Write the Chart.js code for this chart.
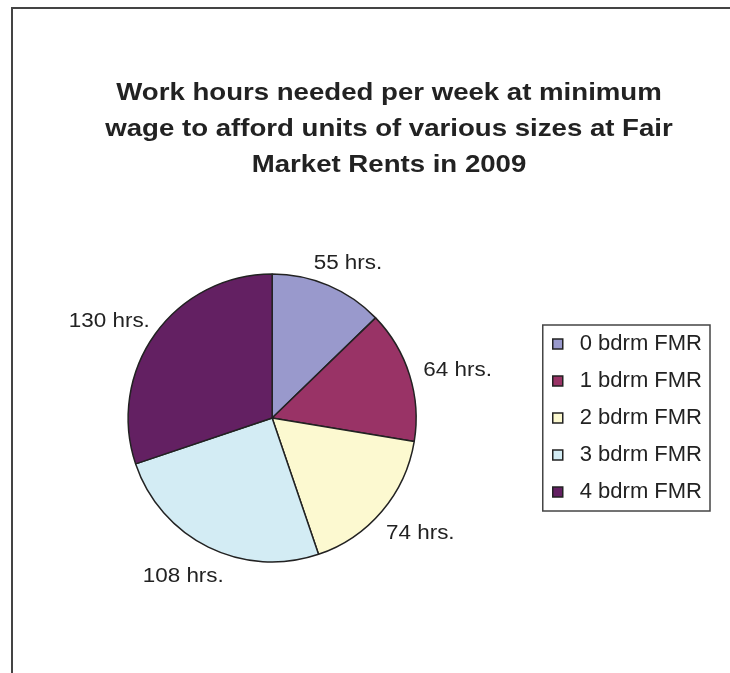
<!DOCTYPE html>
<html>
<head>
<meta charset="utf-8">
<script src="https://cdn.jsdelivr.net/npm/chart.js@4.4.1/dist/chart.umd.min.js"></script>
<style>
  html, body { margin: 0; padding: 0; background: #fff; overflow: hidden; }
  #wrap { position: relative; width: 730px; height: 673px; }
  #frame { position: absolute; left: 11px; top: 7px; right: -10px; bottom: -10px;
           border-left: 2px solid #444; border-top: 2px solid #444; }
  canvas { position: absolute; left: 0; top: 0; }
</style>
</head>
<body>
<div id="wrap">
  <div id="frame"></div>
  <canvas id="chart" width="730" height="673"></canvas>
</div>
<script>
const titleLines = [
    'Work hours needed per week at minimum',
    'wage to afford units of various sizes at Fair',
    'Market Rents in 2009'
];
const categories = ['0 bdrm FMR', '1 bdrm FMR', '2 bdrm FMR', '3 bdrm FMR', '4 bdrm FMR'];
const hours = [55, 64, 74, 108, 130];
const sliceColors = ['#9999cc', '#993366', '#fcf9d0', '#d3ecf4', '#632062'];

const FONT = '"Liberation Sans", Arial, sans-serif';
const STRETCH = 1.15; // text in the original is drawn a little wide

function wideText(ctx, text, x, y, align) {
    ctx.save();
    ctx.translate(x, y);
    ctx.scale(STRETCH, 1);
    ctx.textAlign = align;
    ctx.fillText(text, 0, 0);
    ctx.restore();
}

// Title, drawn by hand so it can sit centred over the whole frame
const titlePlugin = {
    id: 'wideTitle',
    afterDraw(chart) {
        const ctx = chart.ctx;
        ctx.save();
        ctx.font = 'bold 24px ' + FONT;
        ctx.fillStyle = '#222';
        ctx.textBaseline = 'alphabetic';
        titleLines.forEach((line, i) => wideText(ctx, line, 389, 100 + i * 36, 'center'));
        ctx.restore();
    }
};

// "NN hrs." labels just outside each slice
const sliceLabels = {
    id: 'sliceLabels',
    afterDatasetsDraw(chart) {
        const ctx = chart.ctx;
        const meta = chart.getDatasetMeta(0);
        ctx.save();
        ctx.font = '19.5px ' + FONT;
        ctx.fillStyle = '#222';
        ctx.textBaseline = 'middle';
        meta.data.forEach((arc, i) => {
            const p = arc.getProps(['x', 'y', 'startAngle', 'endAngle', 'outerRadius'], true);
            const mid = (p.startAngle + p.endAngle) / 2;
            const dx = Math.cos(mid), dy = Math.sin(mid);
            const text = hours[i] + ' hrs.';
            const w = ctx.measureText(text).width * STRETCH;
            const h = 24;
            const r = p.outerRadius + 16;
            wideText(ctx, text, p.x + dx * r + dx * w / 2, p.y + dy * r + dy * h / 2 + 4, 'center');
        });
        ctx.restore();
    }
};

// border round the legend
const legendFrame = {
    id: 'legendFrame',
    afterDraw(chart) {
        const boxes = chart.legend.legendHitBoxes;
        if (!boxes || !boxes.length) return;
        const ctx = chart.ctx;
        const first = boxes[0], last = boxes[boxes.length - 1];
        const left = first.left - 4;
        const top = first.top - 8;
        const right = Math.max(...boxes.map(b => b.left + b.width)) + 8;
        const bottom = last.top + last.height + 8;
        ctx.save();
        ctx.strokeStyle = '#444';
        ctx.lineWidth = 1.5;
        ctx.strokeRect(left, top, right - left, bottom - top);
        ctx.restore();
    }
};

new Chart(document.getElementById('chart'), {
    type: 'pie',
    data: {
        labels: categories,
        datasets: [{
            data: hours,
            backgroundColor: sliceColors,
            borderColor: '#222',
            borderWidth: 1.5,
            radius: 144
        }]
    },
    options: {
        responsive: false,
        animation: false,
        events: [],
        layout: { padding: { left: 12.5, right: 18, top: 200, bottom: 37 } },
        plugins: {
            title: { display: false },
            tooltip: { enabled: false },
            legend: {
                position: 'right',
                labels: {
                    usePointStyle: true,
                    pointStyle: 'rect',
                    boxWidth: 22,
                    boxHeight: 10,
                    padding: 15,
                    color: '#222',
                    font: { family: FONT, size: 22 }
                }
            }
        }
    },
    plugins: [titlePlugin, sliceLabels, legendFrame]
});
</script>
</body>
</html>
